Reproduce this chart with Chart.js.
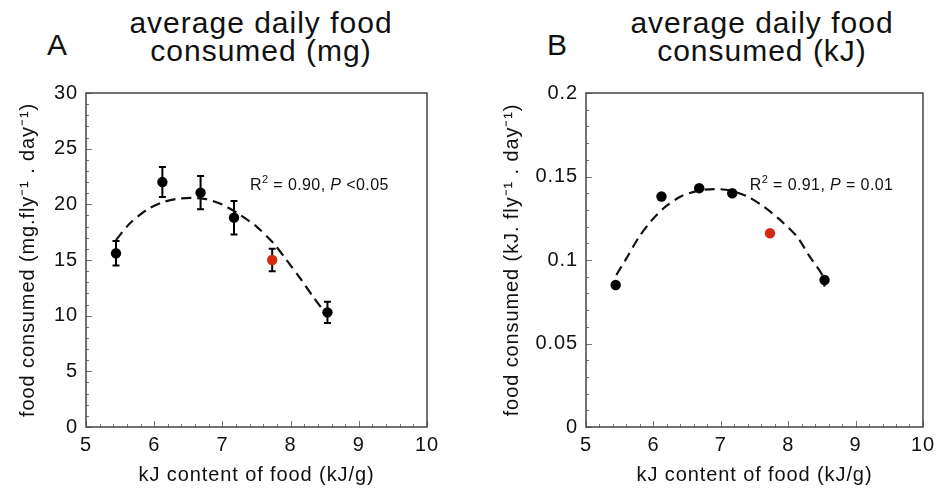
<!DOCTYPE html>
<html>
<head>
<meta charset="utf-8">
<script src="https://cdn.jsdelivr.net/npm/chart.js@4.4.1/dist/chart.umd.min.js"></script>
<style>
  body { margin: 0; background: #fff; width: 941px; height: 488px; position: relative; overflow: hidden;
         font-family: "Liberation Sans", Arial, sans-serif; color: #111; }
  .panel { position: absolute; top: 0; height: 488px; }
  .letter { position: absolute; font-size: 30px; line-height: 30px; }
  .title { position: absolute; top: 9px; font-size: 30px; line-height: 27.5px; letter-spacing: 1px;
           text-align: center; white-space: nowrap; transform: translateX(-50%); }
</style>
</head>
<body>
<div class="letter" style="left:47px;top:30px">A</div>
<div class="title" style="left:261px">average daily food<br>consumed (mg)</div>
<div class="letter" style="left:547px;top:30px">B</div>
<div class="title" style="left:762px">average daily food<br>consumed (kJ)</div>

<div class="panel" style="left:0;width:470px"><canvas id="chartA" width="470" height="488"></canvas></div>
<div class="panel" style="left:470px;width:471px"><canvas id="chartB" width="471" height="488"></canvas></div>

<script>
const FONT = '"Liberation Sans", Arial, sans-serif';

// measured diets: energy content vs. intake
const kjContent = [5.44, 6.12, 6.68, 7.17, 7.73, 8.54];
const foodMg = [15.6, 22.0, 21.05, 18.8, 15.0, 10.3];
const foodMgErr = [1.1, 1.35, 1.5, 1.5, 1.0, 0.95];
const foodKj = [0.085, 0.138, 0.143, 0.140, 0.116, 0.088];
const dotColours = ['#000', '#000', '#000', '#000', '#d42a10', '#000'];

// quadratic fit lines
const fitKjA = [5.44, 5.645, 5.89, 6.11, 6.33, 6.55, 6.77, 7.01, 7.26, 7.50, 7.75, 7.94, 8.14, 8.33, 8.53];
const fitMgA = [16.8, 18.3, 19.5, 20.15, 20.49, 20.58, 20.46, 19.95, 19.05, 18.0, 16.5, 15.0, 13.36, 11.7, 10.06];
const fitKjB = [5.45, 5.60, 5.79, 5.98, 6.18, 6.42, 6.67, 6.91, 7.15, 7.40, 7.64, 7.88, 8.13, 8.32, 8.52, 8.54];
const fitEnergyB = [0.091, 0.101, 0.114, 0.124, 0.1319, 0.1383, 0.1415, 0.1425, 0.1415, 0.1379, 0.1319, 0.124, 0.114, 0.102, 0.090, 0.084];

// labelled ticks
const xLabels = [5, 6, 7, 8, 9, 10];
const yLabelsA = [0, 5, 10, 15, 20, 25, 30];
const yLabelsB = [0, 0.05, 0.1, 0.15, 0.2];

const pts = (xs, ys) => xs.map((x, i) => ({ x, y: ys[i] }));
const labelIf = list => v => list.some(m => Math.abs(m - v) < 1e-6) ? String(Math.round(v * 100) / 100) : '';

// slightly wider text, set before layout measures labels and again before drawing
const wideText = {
  id: 'wideText',
  beforeUpdate(chart) { chart.ctx.letterSpacing = '0.9px'; },
  beforeDraw(chart) { chart.ctx.letterSpacing = '0.9px'; }
};

// box around plot + inward ticks on left/bottom
const frameTicks = {
  id: 'frameTicks',
  afterDraw(chart) {
    const { ctx, chartArea: a, scales: { x, y } } = chart;
    ctx.save();
    ctx.strokeStyle = '#777';
    ctx.lineWidth = 1;
    x.ticks.forEach(t => {
      const px = Math.round(x.getPixelForValue(t.value)) + 0.5;
      const len = t.label !== '' ? 6 : 3;
      ctx.beginPath(); ctx.moveTo(px, a.bottom); ctx.lineTo(px, a.bottom - len); ctx.stroke();
    });
    y.ticks.forEach(t => {
      const py = Math.round(y.getPixelForValue(t.value)) + 0.5;
      const len = t.label !== '' ? 6 : 3;
      ctx.beginPath(); ctx.moveTo(a.left, py); ctx.lineTo(a.left + len, py); ctx.stroke();
    });
    ctx.strokeStyle = '#444';
    ctx.lineWidth = 1.5;
    ctx.strokeRect(a.left, a.top, a.right - a.left, a.bottom - a.top);
    ctx.restore();
  }
};

const errorBars = {
  id: 'errorBars',
  beforeDatasetsDraw(chart, args, opts) {
    if (!opts.errs) return;
    const { ctx, scales: { x, y } } = chart;
    ctx.save();
    ctx.strokeStyle = '#000';
    ctx.lineWidth = 2;
    opts.xs.forEach((xv, i) => {
      const px = x.getPixelForValue(xv);
      const top = y.getPixelForValue(opts.ys[i] + opts.errs[i]);
      const bot = y.getPixelForValue(opts.ys[i] - opts.errs[i]);
      ctx.beginPath();
      ctx.moveTo(px, top); ctx.lineTo(px, bot);
      ctx.moveTo(px - 3.5, top); ctx.lineTo(px + 3.5, top);
      ctx.moveTo(px - 3.5, bot); ctx.lineTo(px + 3.5, bot);
      ctx.stroke();
    });
    ctx.restore();
  }
};

// "R² = …, P …" note next to the fit
const fitNote = {
  id: 'fitNote',
  afterDatasetsDraw(chart, args, opts) {
    const { ctx, scales: { x, y } } = chart;
    let px = x.getPixelForValue(opts.x);
    const py = y.getPixelForValue(opts.y);
    const parts = [
      ['R', '16px ' + FONT, 0],
      ['2', '11px ' + FONT, -7],
      [' = ' + opts.r2 + ', ', '16px ' + FONT, 0],
      ['P', 'italic 16px ' + FONT, 0],
      [opts.p, '16px ' + FONT, 0]
    ];
    ctx.save();
    ctx.letterSpacing = '0.4px';
    ctx.fillStyle = '#111';
    ctx.textBaseline = 'alphabetic';
    parts.forEach(([txt, font, dy]) => {
      ctx.font = font;
      ctx.fillText(txt, px, py + dy);
      px += ctx.measureText(txt).width;
    });
    ctx.restore();
  }
};

function makeChart(id, o) {
  return new Chart(document.getElementById(id), {
    type: 'scatter',
    data: {
      datasets: [
        {
          data: pts(kjContent, o.values),
          pointRadius: 5.2,
          pointHoverRadius: 5.2,
          pointBorderWidth: 0,
          pointBackgroundColor: dotColours,
          order: 0
        },
        {
          data: pts(o.fitX, o.fitY),
          showLine: true,
          pointRadius: 0,
          borderColor: '#111',
          borderWidth: 2.2,
          borderDash: [10, 6],
          tension: 0.3,
          order: 1
        }
      ]
    },
    options: {
      responsive: false,
      animation: false,
      layout: { padding: { top: 93, right: o.padRight, left: 0, bottom: 0 } },
      plugins: {
        legend: { display: false },
        tooltip: { enabled: false },
        errorBars: o.err ? { xs: kjContent, ys: o.values, errs: o.err } : {},
        fitNote: o.note
      },
      scales: {
        x: {
          type: 'linear', min: 5, max: 10,
          grid: { display: false, drawTicks: false },
          border: { display: false },
          afterFit: s => { s.height = 61; },
          ticks: {
            stepSize: 0.2, autoSkip: false, maxRotation: 0, padding: 6,
            color: '#111', font: { family: FONT, size: 20 },
            callback: labelIf(xLabels)
          },
          title: {
            display: true, text: 'kJ content of food (kJ/g)', color: '#111',
            font: { family: FONT, size: 20 }, padding: { top: 0, bottom: 1 }
          }
        },
        y: {
          type: 'linear', min: 0, max: o.yMax,
          grid: { display: false, drawTicks: false },
          border: { display: false },
          afterFit: s => { s.width = o.yWidth; },
          ticks: {
            stepSize: o.yStep, autoSkip: false, padding: 8,
            color: '#111', font: { family: FONT, size: 20 },
            callback: labelIf(o.yLabels)
          },
          title: {
            display: true, text: o.yTitle, color: '#111',
            font: { family: FONT, size: 20 }, padding: { top: o.yTitlePad, bottom: 0 }
          }
        }
      }
    },
    plugins: [wideText, frameTicks, errorBars, fitNote]
  });
}

makeChart('chartA', {
  values: foodMg, err: foodMgErr, fitX: fitKjA, fitY: fitMgA,
  yMax: 30, yStep: 1, yLabels: yLabelsA, yWidth: 86, padRight: 43, yTitlePad: 16,
  yTitle: 'food consumed (mg.fly\u207B\u00B9 . day\u207B\u00B9)',
  note: { x: 7.405, y: 21.3, r2: '0.90', p: ' <0.05' }
});

makeChart('chartB', {
  values: foodKj, err: null, fitX: fitKjB, fitY: fitEnergyB,
  yMax: 0.2, yStep: 0.01, yLabels: yLabelsB, yWidth: 116, padRight: 13, yTitlePad: 30,
  yTitle: 'food consumed (kJ. fly\u207B\u00B9 . day\u207B\u00B9)',
  note: { x: 7.43, y: 0.1419, r2: '0.91', p: ' = 0.01' }
});
</script>
</body>
</html>
